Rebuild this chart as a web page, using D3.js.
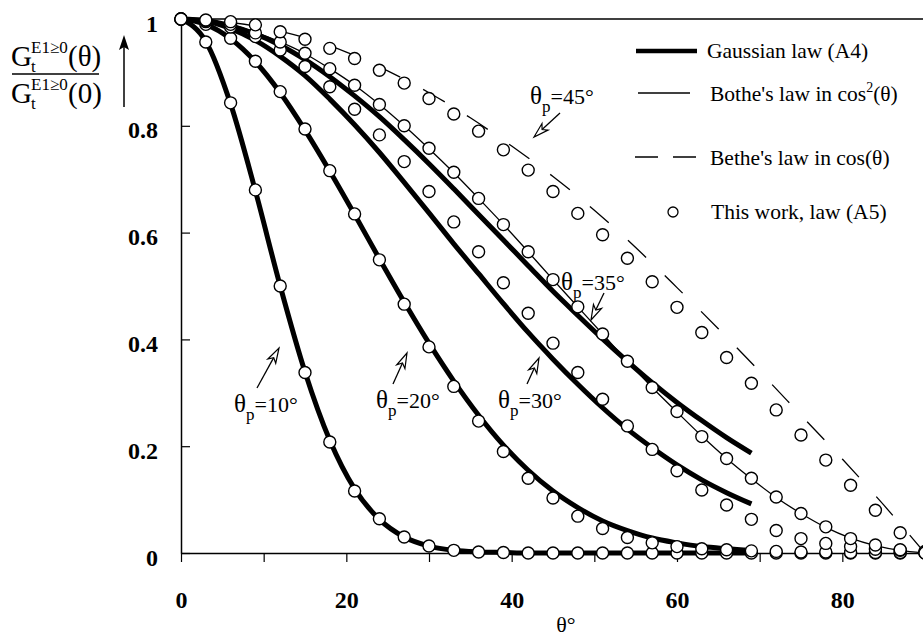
<!doctype html>
<html lang="en">
<head>
<meta charset="UTF-8" />
<script src="https://d3js.org/d3.v7.min.js"></script>
<title>Angular distribution</title>
<style>
  body { margin: 0; background: #fff; }
  text { font-family: "Liberation Serif", "Times New Roman", serif; fill: #000; }
</style>
</head>
<body>
<div id="chart"></div>
<script>
// angles of the circles (every 3 degrees)
const angles = [0, 3, 6, 9, 12, 15, 18, 21, 24, 27, 30, 33, 36, 39, 42, 45, 48, 51, 54, 57, 60, 63, 66, 69, 72, 75, 78, 81, 84, 87, 90]
// angles of the Gaussian curves (stop at 69)
const gaussAngles = [0, 3, 6, 9, 12, 15, 18, 21, 24, 27, 30, 33, 36, 39, 42, 45, 48, 51, 54, 57, 60, 63, 66, 69]
const betheAngles = [0, 5, 10, 15, 20, 25, 30, 35, 40, 45, 50, 55, 60, 65, 70, 75, 80, 85, 90]

// This work, law (A5) - circles
const work10 = [1, 0.957, 0.843, 0.68, 0.5, 0.338, 0.208, 0.116, 0.064, 0.03, 0.013, 0.005, 0.002, 0.001, 0, 0, 0, 0, 0, 0, 0, 0, 0, 0, 0, 0, 0, 0, 0, 0, 0]
const work20 = [1, 0.99, 0.964, 0.921, 0.864, 0.794, 0.716, 0.635, 0.549, 0.466, 0.386, 0.312, 0.247, 0.19, 0.14, 0.103, 0.069, 0.046, 0.029, 0.019, 0.012, 0.008, 0.006, 0.004, 0.003, 0.002, 0.002, 0.001, 0.001, 0.001, 0.001]
const work30 = [1, 0.995, 0.985, 0.967, 0.942, 0.911, 0.873, 0.831, 0.783, 0.733, 0.677, 0.62, 0.564, 0.506, 0.449, 0.393, 0.338, 0.288, 0.238, 0.194, 0.154, 0.118, 0.09, 0.063, 0.042, 0.027, 0.018, 0.012, 0.007, 0.005, 0.003]
const work35 = [1, 0.997, 0.99, 0.974, 0.957, 0.936, 0.907, 0.876, 0.84, 0.8, 0.758, 0.713, 0.664, 0.615, 0.564, 0.512, 0.461, 0.41, 0.359, 0.31, 0.265, 0.218, 0.177, 0.14, 0.105, 0.074, 0.049, 0.027, 0.015, 0.006, 0.002]
const work45 = [1, 0.998, 0.995, 0.989, 0.976, 0.962, 0.945, 0.926, 0.904, 0.88, 0.851, 0.822, 0.79, 0.755, 0.717, 0.677, 0.636, 0.596, 0.552, 0.508, 0.46, 0.413, 0.366, 0.318, 0.268, 0.221, 0.174, 0.127, 0.08, 0.038, 0]

// Gaussian law (A4) - thick lines
const gauss10 = [1, 0.958, 0.841, 0.678, 0.5, 0.339, 0.211, 0.12, 0.063, 0.03, 0.013, 0.005, 0.002, 0.001, 0, 0, 0, 0, 0, 0, 0, 0, 0, 0]
const gauss20 = [1, 0.99, 0.963, 0.92, 0.862, 0.792, 0.715, 0.634, 0.551, 0.47, 0.393, 0.322, 0.258, 0.202, 0.155, 0.116, 0.085, 0.06, 0.042, 0.028, 0.019, 0.012, 0.008, 0.005]
const gauss30 = [1, 0.996, 0.982, 0.96, 0.93, 0.894, 0.85, 0.802, 0.75, 0.694, 0.637, 0.579, 0.523, 0.467, 0.413, 0.363, 0.316, 0.272, 0.232, 0.197, 0.165, 0.137, 0.113, 0.092]
const gauss35 = [1, 0.997, 0.987, 0.972, 0.951, 0.924, 0.892, 0.856, 0.817, 0.774, 0.729, 0.682, 0.634, 0.586, 0.538, 0.49, 0.445, 0.401, 0.359, 0.319, 0.282, 0.248, 0.216, 0.187]

// Bothe's law in cos^2 (thin line, theta_p = 35)
const bothe35 = [1, 0.997, 0.99, 0.975, 0.957, 0.935, 0.907, 0.876, 0.84, 0.8, 0.757, 0.712, 0.664, 0.615, 0.564, 0.512, 0.461, 0.41, 0.359, 0.31, 0.264, 0.219, 0.177, 0.139, 0.104, 0.074, 0.048, 0.028, 0.014, 0.005, 0]
// Bethe's law in cos (dashed, theta_p = 45)
const bethe45 = [1, 0.995, 0.984, 0.965, 0.938, 0.903, 0.862, 0.815, 0.762, 0.705, 0.642, 0.572, 0.497, 0.42, 0.34, 0.258, 0.176, 0.09, 0]

const xTicks = [0, 10, 20, 30, 40, 50, 60, 70, 80, 90]
const yTicks = [0, 0.2, 0.4, 0.6, 0.8, 1]

const W = 923, H = 636
const x = d3.scaleLinear().domain([0, 90]).range([181, 925])
const y = d3.scaleLinear().domain([0, 1]).range([553, 19])

const svg = d3.select("#chart").append("svg")
  .attr("width", W).attr("height", H)

const serif = '"Liberation Serif", "Times New Roman", serif'

// x axis
const xAxis = svg.append("g")
  .attr("transform", `translate(0,${y(0)})`)
  .call(d3.axisBottom(x).tickValues(xTicks).tickSize(9).tickSizeOuter(0).tickPadding(29)
    .tickFormat(d => d % 20 === 0 && d < 90 ? d : ""))
xAxis.select(".domain").attr("stroke-width", 1.5)
xAxis.selectAll(".tick line").attr("stroke-width", 1.2)
xAxis.selectAll("text").attr("font-family", serif).attr("font-size", 24).attr("font-weight", "bold")

// y axis
const yAxis = svg.append("g")
  .attr("transform", `translate(${x(0)},0)`)
  .call(d3.axisLeft(y).tickValues(yTicks).tickSize(-9).tickSizeOuter(0).tickPadding(23)
    .tickFormat(d => d === 0 || d === 1 ? d : d3.format(".1f")(d)))
yAxis.select(".domain").attr("stroke-width", 1.5)
yAxis.selectAll(".tick line").attr("stroke-width", 1.2)
yAxis.selectAll("text").attr("font-family", serif).attr("font-size", 24).attr("font-weight", "bold").attr("dy", "0.5em")

// top frame
svg.append("line").attr("x1", x(0)).attr("x2", W).attr("y1", y(1)).attr("y2", y(1))
  .attr("stroke", "#000").attr("stroke-width", 1.5)

// x label
svg.append("text").attr("x", 566).attr("y", 632).attr("text-anchor", "middle")
  .attr("font-size", 22).text("θ°")

// y label: fraction
const frac = svg.append("g").attr("font-size", 29)
function gLabel(yb, arg) {
  frac.append("text").attr("x", 11).attr("y", yb).text("G")
  frac.append("text").attr("x", 31).attr("y", yb - 13).attr("font-size", 17).text("E1≥0")
  frac.append("text").attr("x", 31).attr("y", yb + 6).attr("font-size", 17).text("t")
  frac.append("text").attr("x", 68).attr("y", yb).text(arg)
}
gLabel(66, "(θ)")
gLabel(103, "(0)")
frac.append("line").attr("x1", 12).attr("x2", 99).attr("y1", 74).attr("y2", 74)
  .attr("stroke", "#000").attr("stroke-width", 1.5)
svg.append("line").attr("x1", 124).attr("x2", 124).attr("y1", 107).attr("y2", 45)
  .attr("stroke", "#000").attr("stroke-width", 1.5)
svg.append("path").attr("d", "M124,35 L119,50 L124,47 L129,50 Z").attr("fill", "#000")

// curves
const line = d3.line().x(d => x(d[0])).y(d => y(d[1])).curve(d3.curveMonotoneX)
const zip = (xs, ys) => xs.map((v, i) => [v, ys[i]])

const gaussSeries = [gauss10, gauss20, gauss30, gauss35]
svg.append("g").selectAll("path").data(gaussSeries).join("path")
  .attr("d", d => line(zip(gaussAngles, d)))
  .attr("fill", "none").attr("stroke", "#000").attr("stroke-width", 5)

svg.append("path").attr("d", line(zip(angles, bothe35)))
  .attr("fill", "none").attr("stroke", "#000").attr("stroke-width", 1.3)

svg.append("path").attr("d", line(zip(betheAngles, bethe45)))
  .attr("fill", "none").attr("stroke", "#000").attr("stroke-width", 1.3)
  .attr("stroke-dasharray", "25,26")

// circles
const workSeries = [work10, work20, work30, work35, work45]
svg.append("g").selectAll("g").data(workSeries).join("g")
  .selectAll("circle").data(d => zip(angles, d)).join("circle")
  .attr("cx", d => x(d[0])).attr("cy", d => y(d[1])).attr("r", 6)
  .attr("fill", "#fff").attr("stroke", "#000").attr("stroke-width", 1.4)

// annotations
function arrow(x1, y1, x2, y2) {
  const a = Math.atan2(y2 - y1, x2 - x1)
  const L = 15, w = 4.5
  const bx = x2 - L * Math.cos(a), by = y2 - L * Math.sin(a)
  svg.append("line").attr("x1", x1).attr("y1", y1).attr("x2", bx + 4 * Math.cos(a)).attr("y2", by + 4 * Math.sin(a))
    .attr("stroke", "#000").attr("stroke-width", 1.3)
  const px = -Math.sin(a) * w, py = Math.cos(a) * w
  svg.append("path")
    .attr("d", `M${x2},${y2} L${bx + px},${by + py} L${bx + 4 * Math.cos(a)},${by + 4 * Math.sin(a)} L${bx - px},${by - py} Z`)
    .attr("fill", "#fff").attr("stroke", "#000").attr("stroke-width", 1.2)
}
function thetaLabel(tx, ty, val) {
  const t = svg.append("text").attr("x", tx).attr("y", ty).attr("font-size", 22)
  t.append("tspan").attr("font-size", 25).text("θ")
  t.append("tspan").attr("font-size", 17).attr("dy", 8).text("p")
  t.append("tspan").attr("dy", -8).text(`=${val}°`)
}
thetaLabel(234, 412, 10); arrow(257, 388, 279, 348)
thetaLabel(376, 408, 20); arrow(393, 384, 407, 353)
thetaLabel(498, 408, 30); arrow(527, 384, 539, 358)
thetaLabel(561, 290, 35); arrow(604, 293, 591, 320)
thetaLabel(530, 104, 45); arrow(560, 113, 534, 137)

// legend
const lg = svg.append("g")
lg.append("line").attr("x1", 636).attr("x2", 697).attr("y1", 51).attr("y2", 51)
  .attr("stroke", "#000").attr("stroke-width", 4.5)
lg.append("line").attr("x1", 638).attr("x2", 690).attr("y1", 93).attr("y2", 93)
  .attr("stroke", "#000").attr("stroke-width", 1.3)
lg.append("line").attr("x1", 635).attr("x2", 697).attr("y1", 157).attr("y2", 157)
  .attr("stroke", "#000").attr("stroke-width", 1.3).attr("stroke-dasharray", "23,15")
lg.append("circle").attr("cx", 673).attr("cy", 212).attr("r", 5)
  .attr("fill", "#fff").attr("stroke", "#000").attr("stroke-width", 1.3)
const legendText = lg.append("g").attr("font-size", 21.5)
legendText.append("text").attr("x", 707).attr("y", 58).text("Gaussian law (A4)")
const bt = legendText.append("text").attr("x", 710).attr("y", 101)
bt.append("tspan").text("Bothe's law in cos")
bt.append("tspan").attr("font-size", 14).attr("dy", -9).text("2")
bt.append("tspan").attr("dy", 9).text("(θ)")
legendText.append("text").attr("x", 710).attr("y", 165).text("Bethe's law in cos(θ)")
legendText.append("text").attr("x", 711).attr("y", 219).text("This work, law (A5)")
</script>
</body>
</html>
